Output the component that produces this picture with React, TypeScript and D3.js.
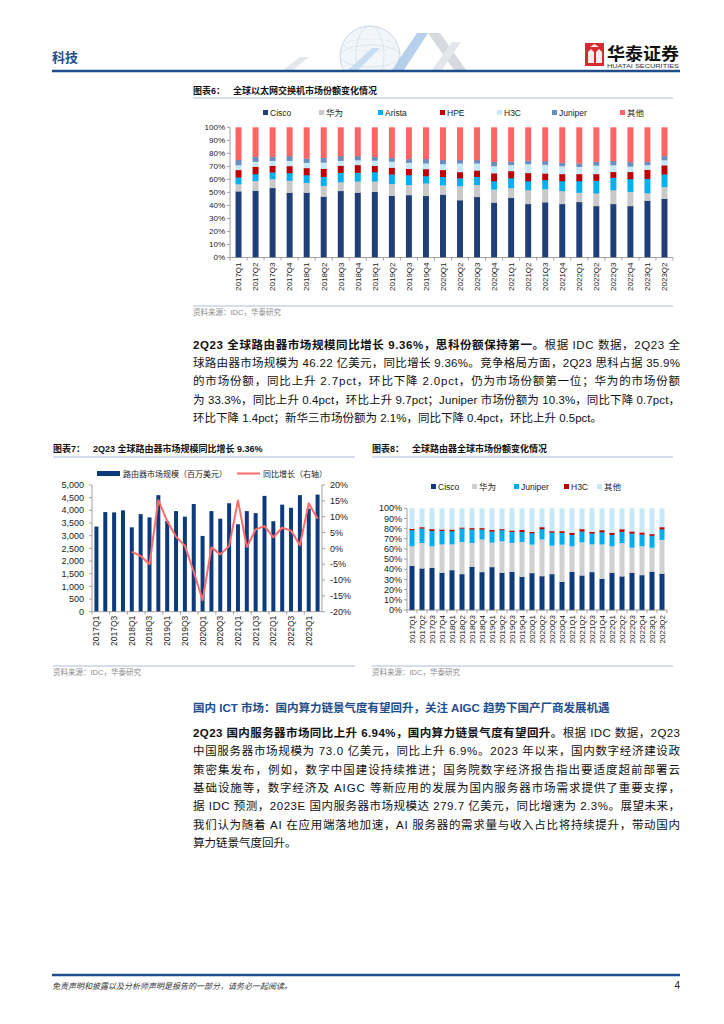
import React from 'react';
import * as d3 from 'd3';

const quarters = ['2017Q1','2017Q2','2017Q3','2017Q4','2018Q1','2018Q2','2018Q3','2018Q4','2019Q1','2019Q2','2019Q3','2019Q4','2020Q1','2020Q2','2020Q3','2020Q4','2021Q1','2021Q2','2021Q3','2021Q4','2022Q1','2022Q2','2022Q3','2022Q4','2023Q1','2023Q2'];

// Chart 6: global Ethernet switch market share (%)
const swCisco = [50.9,51.4,53.5,49.9,49.9,46.8,51.2,49.9,50.5,47.5,48.0,47.4,48.4,44.1,46.6,42.3,46.0,41.2,42.5,41.2,42.7,39.6,41.2,39.6,43.7,45.2];
const swHuawei = [5.6,7.6,6.9,9.2,7.6,8.4,6.8,8.7,8.0,9.1,7.9,9.7,7.2,10.9,9.3,10.1,7.5,10.7,10.2,10.0,7.2,9.8,10.7,11.0,5.9,9.1];
const swArista = [5.1,5.2,5.1,5.9,5.9,6.9,7.2,6.6,7.2,7.3,7.5,5.6,6.4,6.0,6.2,6.4,7.5,6.9,6.9,7.6,8.9,9.7,9.5,9.8,11.0,9.7];
const swHPE = [5.7,5.6,5.1,5.3,5.4,6.2,5.4,5.9,4.8,5.2,4.8,5.3,5.3,4.7,4.9,6.0,5.5,6.2,5.1,5.4,5.4,5.1,4.4,5.4,6.9,6.9];
const swH3C = [3.8,3.9,3.8,4.1,4.1,4.8,3.8,3.8,4.1,4.7,4.7,4.4,4.6,6.7,5.4,5.5,4.7,6.9,6.7,6.1,5.6,6.6,5.3,4.2,3.6,4.0];
const swJuniper = [3.9,3.8,3.1,3.6,3.3,3.6,3.6,3.1,2.8,2.9,2.8,3.3,3.1,2.6,2.6,3.2,2.5,2.7,2.8,2.6,2.6,2.9,3.1,3.4,2.6,3.2];
const swOthers = [25.0,22.5,22.5,22.0,23.8,23.3,22.0,22.0,22.6,23.3,24.3,24.3,25.0,25.0,25.0,26.5,26.3,25.4,25.8,27.1,27.6,26.3,25.8,26.6,26.3,21.9];

// Chart 7: global router market size (USD mn) and YoY growth (%)
const routerMarket = [3360,3930,3920,4000,3330,3850,3720,4600,3580,3970,3750,4250,2990,3970,3670,4280,3450,3970,3890,4570,3570,4226,4100,4600,4070,4622];
const routerGrowth: (number | null)[] = [null,null,null,null,-1.1,-2.4,-5.0,15.2,8.6,3.7,0.8,-7.4,-16.4,0.3,-1.9,0.7,15.1,0.4,6.0,7.0,3.5,6.5,5.6,1.0,14.2,9.36];
const leftTicks = [0,500,1000,1500,2000,2500,3000,3500,4000,4500,5000];
const rightTicks = [-20,-15,-10,-5,0,5,10,15,20];

// Chart 8: global router market share (%)
const rtCisco = [43.6,41.0,41.6,36.7,39.3,35.4,42.6,37.4,42.3,36.7,37.7,32.8,36.4,33.4,35.4,27.9,37.7,34.1,37.4,30.8,36.7,33.2,36.7,34.4,37.9,35.9];
const rtHuawei = [19.4,25.2,21.4,28.2,25.6,31.8,23.6,32.4,24.3,31.2,28.5,34.4,28.2,36.4,28.2,36.7,25.3,32.8,27.5,34.1,26.3,32.9,24.9,28.6,23.6,33.3];
const rtJuniper = [15.7,14.1,15.0,13.1,12.8,13.1,13.1,9.5,10.8,10.8,10.8,9.8,11.1,9.9,12.8,11.5,11.1,10.5,10.5,11.8,11.1,11.0,13.8,11.4,11.7,10.3];
const rtH3C = [1.3,1.3,1.7,1.3,1.6,1.0,1.4,1.4,1.6,1.0,1.4,2.0,1.3,1.9,1.3,1.6,2.0,2.3,1.6,2.0,2.0,2.5,2.0,2.0,1.6,2.1];
const rtOthers = [20.0,18.4,20.3,20.7,20.7,18.7,19.3,19.3,21.0,20.3,21.6,21.0,23.0,18.4,22.3,22.3,23.9,20.3,23.0,21.3,23.9,20.4,22.6,23.6,25.2,18.4];

const pctTicks = [0,10,20,30,40,50,60,70,80,90,100];

const switchSeries = [
  { name: 'Cisco', color: '#203F78', values: swCisco },
  { name: '华为', color: '#C9C9C9', values: swHuawei },
  { name: 'Arista', color: '#00B0F0', values: swArista },
  { name: 'HPE', color: '#C00000', values: swHPE },
  { name: 'H3C', color: '#C6E9F8', values: swH3C },
  { name: 'Juniper', color: '#6A8EBD', values: swJuniper },
  { name: '其他', color: '#FF6565', values: swOthers },
];
const routerSeries = [
  { name: 'Cisco', color: '#0C3A7D', values: rtCisco },
  { name: '华为', color: '#D0D0D0', values: rtHuawei },
  { name: 'Juniper', color: '#00AEEF', values: rtJuniper },
  { name: 'H3C', color: '#C00000', values: rtH3C },
  { name: '其他', color: '#C8E8F8', values: rtOthers },
];

const para1 = [
  { b: '2Q23 全球路由器市场规模同比增长 9.36%，思科份额保持第一。', t: '根据 IDC 数据，2Q23 全', j: true },
  { b: '', t: '球路由器市场规模为 46.22 亿美元，同比增长 9.36%。竞争格局方面，2Q23 思科占据 35.9%', j: true },
  { b: '', t: '的市场份额，同比上升 2.7pct，环比下降 2.0pct，仍为市场份额第一位；华为的市场份额', j: true },
  { b: '', t: '为 33.3%，同比上升 0.4pct，环比上升 9.7pct；Juniper 市场份额为 10.3%，同比下降 0.7pct，', j: true },
  { b: '', t: '环比下降 1.4pct；新华三市场份额为 2.1%，同比下降 0.4pct，环比上升 0.5pct。', j: false },
];
const heading2 = '国内 ICT 市场：国内算力链景气度有望回升，关注 AIGC 趋势下国产厂商发展机遇';
const para2 = [
  { b: '2Q23 国内服务器市场同比上升 6.94%，国内算力链景气度有望回升。', t: '根据 IDC 数据，2Q23', j: true },
  { b: '', t: '中国服务器市场规模为 73.0 亿美元，同比上升 6.9%。2023 年以来，国内数字经济建设政', j: true },
  { b: '', t: '策密集发布，例如，数字中国建设持续推进；国务院数字经济报告指出要适度超前部署云', j: true },
  { b: '', t: '基础设施等，数字经济及 AIGC 等新应用的发展为国内服务器市场需求提供了重要支撑，', j: true },
  { b: '', t: '据 IDC 预测，2023E 国内服务器市场规模达 279.7 亿美元，同比增速为 2.3%。展望未来，', j: true },
  { b: '', t: '我们认为随着 AI 在应用端落地加速，AI 服务器的需求量与收入占比将持续提升，带动国内', j: true },
  { b: '', t: '算力链景气度回升。', j: false },
];

const SANS = "'Liberation Sans', Arial, 'Noto Sans CJK SC', sans-serif";
const AXIS = '#8C8C8C';
const TXT = '#222';
const BLUE = '#1F4E8C';
const RULE = '#A9BDD9';

type Series = { name: string; color: string; values: number[] };

function StackedChart(p: {
  series: Series[]; left: number; right: number; top: number; bottom: number; padding: number;
  labelSize: number; yLabelSize: number; legendX: number[]; legendY: number; legendSize: number;
}) {
  const x = d3.scaleBand<string>().domain(quarters).range([p.left, p.right]).paddingInner(p.padding).paddingOuter(p.padding / 2);
  const y = d3.scaleLinear().domain([0, 100]).range([p.bottom, p.top]);
  const rows = quarters.map((q, i) => {
    const r: Record<string, any> = { q };
    p.series.forEach(s => { r[s.name] = s.values[i]; });
    return r;
  });
  const stacked = d3.stack<any>().keys(p.series.map(s => s.name))(rows);
  const bw = x.bandwidth();
  return (
    <g fontFamily={SANS}>
      {p.series.map((s, i) => (
        <g key={s.name}>
          <rect x={p.legendX[i]} y={p.legendY - 3} width={5} height={5} fill={s.color} />
          <text x={p.legendX[i] + 7} y={p.legendY + 2.5} fontSize={p.legendSize} fill={TXT}>{s.name}</text>
        </g>
      ))}
      {stacked.map((layer, li) => (
        <g key={li} fill={p.series[li].color}>
          {layer.map((d, i) => (
            <rect key={i} x={x(quarters[i])} y={y(d[1])} width={bw} height={Math.max(0, y(d[0]) - y(d[1]) + 0.3)} />
          ))}
        </g>
      ))}
      <line x1={p.left} x2={p.left} y1={p.top} y2={p.bottom} stroke={AXIS} strokeWidth={0.8} />
      {pctTicks.map(t => (
        <g key={t}>
          <line x1={p.left - 3} x2={p.left} y1={y(t)} y2={y(t)} stroke={AXIS} strokeWidth={0.8} />
          <text x={p.left - 5} y={y(t)} dy="0.35em" textAnchor="end" fontSize={p.yLabelSize} fill={TXT}>{t}%</text>
        </g>
      ))}
      <line x1={p.left} x2={p.right} y1={p.bottom} y2={p.bottom} stroke={AXIS} strokeWidth={0.8} />
      {quarters.map((q, i) => (
        <line key={'t' + q} x1={p.left + i * x.step()} x2={p.left + i * x.step()} y1={p.bottom} y2={p.bottom + 3} stroke={AXIS} strokeWidth={0.8} />
      ))}
      <line x1={p.right} x2={p.right} y1={p.bottom} y2={p.bottom + 3} stroke={AXIS} strokeWidth={0.8} />
      {quarters.map(q => (
        <text key={'l' + q} transform={`translate(${(x(q) as number) + bw / 2},${p.bottom + 5}) rotate(-90)`} dy="0.35em" textAnchor="end" fontSize={p.labelSize} fill={TXT}>{q}</text>
      ))}
    </g>
  );
}

function RouterChart() {
  const left = 92, right = 322, top = 485, bottom = 611.7;
  const x = d3.scaleBand<string>().domain(quarters).range([left, right]).paddingInner(0.55).paddingOuter(0.275);
  const yL = d3.scaleLinear().domain([0, 5000]).range([bottom, top]);
  const yR = d3.scaleLinear().domain([-20, 20]).range([bottom, top]);
  const fmt = d3.format(',');
  const bw = x.bandwidth();
  const pts = quarters.map((q, i) => ({ q, v: routerGrowth[i] })).filter(d => d.v !== null) as { q: string; v: number }[];
  const line = d3.line<{ q: string; v: number }>().x(d => (x(d.q) as number) + bw / 2).y(d => yR(d.v));
  return (
    <g fontFamily={SANS}>
      <rect x={97} y={471} width={23} height={5} fill="#0D3A7C" />
      <text x={123} y={476.5} fontSize={8} fill={TXT}>路由器市场规模（百万美元）</text>
      <line x1={237} x2={260} y1={473.5} y2={473.5} stroke="#FF6B6B" strokeWidth={2} />
      <text x={263} y={476.5} fontSize={8} fill={TXT}>同比增长（右轴）</text>
      {routerMarket.map((v, i) => (
        <rect key={i} x={x(quarters[i])} y={yL(v)} width={bw} height={yL(0) - yL(v)} fill="#0D3A7C" />
      ))}
      <path d={line(pts) || ''} fill="none" stroke="#FF6B6B" strokeWidth={2} strokeLinejoin="round" />
      <line x1={left} x2={left} y1={top} y2={bottom} stroke={AXIS} strokeWidth={0.8} />
      <line x1={right} x2={right} y1={top} y2={bottom} stroke={AXIS} strokeWidth={0.8} />
      <line x1={left} x2={right} y1={bottom} y2={bottom} stroke={AXIS} strokeWidth={0.8} />
      {leftTicks.map(t => (
        <g key={'L' + t}>
          <line x1={left - 3} x2={left} y1={yL(t)} y2={yL(t)} stroke={AXIS} strokeWidth={0.8} />
          <text x={left - 8} y={yL(t)} dy="0.35em" textAnchor="end" fontSize={9} fill={TXT}>{fmt(t)}</text>
        </g>
      ))}
      {rightTicks.map(t => (
        <g key={'R' + t}>
          <line x1={right} x2={right + 3} y1={yR(t)} y2={yR(t)} stroke={AXIS} strokeWidth={0.8} />
          <text x={right + 8} y={yR(t)} dy="0.35em" textAnchor="start" fontSize={9} fill={TXT}>{t}%</text>
        </g>
      ))}
      {quarters.map((q, i) => i % 2 === 0 ? (
        <g key={'x' + q}>
          <line x1={left + i * x.step()} x2={left + i * x.step()} y1={bottom} y2={bottom + 3} stroke={AXIS} strokeWidth={0.8} />
          <text transform={`translate(${(x(q) as number) + bw / 2},${bottom + 4}) rotate(-90)`} dy="0.35em" textAnchor="end" fontSize={8.5} fill={TXT}>{q}</text>
        </g>
      ) : null)}
    </g>
  );
}

function Paragraph(p: { lines: { b: string; t: string; j: boolean }[]; y0: number; dy: number; size: number }) {
  return (
    <g fontFamily={SANS} fontSize={p.size} fill="#111">
      {p.lines.map((l, i) => (
        <text key={i} x={193} y={p.y0 + i * p.dy} textLength={l.j ? 487 : undefined} lengthAdjust="spacing">
          {l.b ? <tspan fontWeight="bold">{l.b}</tspan> : null}
          <tspan>{l.t}</tspan>
        </text>
      ))}
    </g>
  );
}

function Title(p: { x: number; y: number; label: string; text: string; x2: number; lineY: number }) {
  return (
    <g fontFamily={SANS}>
      <text x={p.x} y={p.y} fontSize={9} fontWeight="bold" fill="#111">{p.label}<tspan dx={8}>{p.text}</tspan></text>
      <line x1={p.x} x2={p.x2} y1={p.lineY} y2={p.lineY} stroke={RULE} strokeWidth={1} />
    </g>
  );
}

function Source(p: { x: number; x2: number; y: number }) {
  return (
    <g fontFamily={SANS}>
      <line x1={p.x} x2={p.x2} y1={p.y} y2={p.y} stroke={RULE} strokeWidth={1} />
      <text x={p.x} y={p.y + 9} fontSize={7.5} fill="#8C8C8C">资料来源：IDC，华泰研究</text>
    </g>
  );
}

function Header() {
  return (
    <g>
      <defs>
        <clipPath id="hdrclip"><rect x={250} y={20} width={250} height={50} /></clipPath>
      </defs>
      <g clipPath="url(#hdrclip)">
        <polygon points="283,70 300,57 309,57 293,70" fill="#E4E7EB" />
        <circle cx={370} cy={56} r={30} fill="#F2F6FA" stroke="#C9D6E4" strokeWidth={1} />
        <ellipse cx={370} cy={56} rx={14} ry={30} fill="none" stroke="#D3DEE9" strokeWidth={0.8} />
        <ellipse cx={370} cy={56} rx={30} ry={11} fill="none" stroke="#D3DEE9" strokeWidth={0.8} />
        <ellipse cx={370} cy={45} rx={26} ry={6} fill="none" stroke="#DCE5EE" strokeWidth={0.6} />
        <polygon points="392,70 417,33 428,33 404,70" fill="#A9C8E8" opacity={0.85} />
        <polygon points="348,70 372,48 380,48 358,70" fill="#BFD7EE" opacity={0.8} />
        <polygon points="428,33 440,33 466,70 454,70" fill="#D6D9DE" />
        <polygon points="432,70 452,42 461,42 442,70" fill="#E3E6EA" />
      </g>
      <text x={52} y={62} fontFamily={SANS} fontSize={13} fontWeight="bold" fill={BLUE}>科技</text>
      <line x1={52} x2={680} y1={71} y2={71} stroke={BLUE} strokeWidth={2.5} />
      <rect x={585} y={43} width={19} height={23} fill="#D62B30" />
      <path d="M588,63 L588,52 L591,49 L594,52 L594,63 Z M596,63 L596,52 L599,49 L602,52 L602,63 Z" fill="#fff" opacity={0.9} />
      <path d="M590,47 L594.5,44 L599,47 Z" fill="#fff" opacity={0.9} />
      <text x={607} y={60} fontFamily={SANS} fontSize={17} fontWeight="bold" fill="#111" textLength={72} lengthAdjust="spacingAndGlyphs">华泰证券</text>
      <text x={607} y={68} fontFamily={SANS} fontSize={5.5} fill="#333" textLength={72} lengthAdjust="spacingAndGlyphs">HUATAI SECURITIES</text>
    </g>
  );
}

export default function App() {
  return (
    <svg width={724} height={1024} style={{ position: 'absolute', left: 0, top: 0, background: '#fff' }}>
      <rect x={0} y={0} width={724} height={1024} fill="#fff" />
      <Header />

      <Title x={193} y={94} label="图表6：" text="全球以太网交换机市场份额变化情况" x2={673} lineY={98} />
      <StackedChart series={switchSeries} left={230} right={673} top={127.3} bottom={257.5} padding={0.65}
        labelSize={8} yLabelSize={8} legendX={[263, 319, 378, 440, 497, 552, 620]} legendY={113} legendSize={8.5} />
      <Source x={193} x2={673} y={306} />

      <Paragraph lines={para1} y0={349} dy={18.2} size={11.5} />

      <Title x={53} y={452} label="图表7：" text="2Q23 全球路由器市场规模同比增长 9.36%" x2={355} lineY={457} />
      <RouterChart />
      <Source x={53} x2={355} y={666} />

      <Title x={372} y={452} label="图表8：" text="全球路由器全球市场份额变化情况" x2={673} lineY={457} />
      <StackedChart series={routerSeries} left={407} right={667} top={508.3} bottom={610} padding={0.5}
        labelSize={8} yLabelSize={9} legendX={[431, 472, 514, 564, 597]} legendY={487} legendSize={8.5} />
      <Source x={372} x2={673} y={666} />

      <text x={193} y={712} fontFamily={SANS} fontSize={11.5} fontWeight="bold" fill={BLUE}>{heading2}</text>
      <Paragraph lines={para2} y0={737} dy={18.3} size={11.5} />

      <line x1={52} x2={680} y1={975} y2={975} stroke={BLUE} strokeWidth={2.5} />
      <text x={52} y={989} fontFamily={SANS} fontSize={8} fontStyle="italic" fill="#333">免责声明和披露以及分析师声明是报告的一部分，请务必一起阅读。</text>
      <text x={680} y={989} fontFamily={SANS} fontSize={10} textAnchor="end" fill="#222">4</text>
    </svg>
  );
}
